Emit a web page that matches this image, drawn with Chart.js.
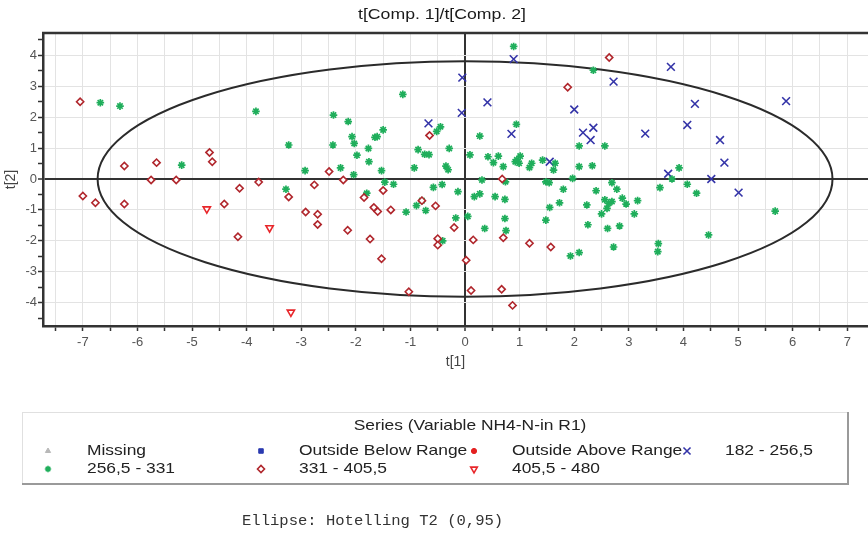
<!DOCTYPE html>
<html><head><meta charset="utf-8">
<script src="https://cdn.jsdelivr.net/npm/chart.js@4.4.1/dist/chart.umd.min.js"></script>
<style>html,body{margin:0;padding:0;background:#fff;}canvas{display:block;}</style>
</head><body>
<canvas id="c" width="868" height="535"></canvas>
<script>
const chartTitle = 't[Comp. 1]/t[Comp. 2]';
const xAxisTitle = 't[1]';
const yAxisTitle = 't[2]';
const legendTitle = 'Series (Variable NH4-N-in R1)';
const footerText = 'Ellipse: Hotelling T2 (0,95)';
const legendLabels = ['Missing', 'Outside Below Range', 'Outside Above Range', '182 - 256,5', '256,5 - 331', '331 - 405,5', '405,5 - 480'];
const ellipseCenter = [0, 0];
const ellipseRadii = [6.73, 3.81];
const xRange = [-7.73, 7.38];
const yRange = [-4.757, 4.725];

// 182 - 256,5 (blue X)
const range182 = [
  [-0.67,1.80],[-0.05,3.28],[-0.06,2.14],[0.89,3.88],[0.41,2.48],[0.85,1.46],[1.55,0.56],
  [2.00,2.25],[2.16,1.50],[2.35,1.66],[2.30,1.26],[2.72,3.15],[3.30,1.47],[3.77,3.63],
  [4.21,2.43],[4.07,1.75],[4.67,1.26],[4.75,0.53],[5.88,2.52],[3.72,0.17],[4.51,0.00],[5.01,-0.44]
];
// 256,5 - 331 (green)
const range256 = [
  [-6.68,2.47],[-6.32,2.36],[-5.19,0.45],[-3.83,2.19],[-3.23,1.10],[-3.28,-0.33],[-2.93,0.27],
  [-2.41,2.07],[-2.14,1.86],[-2.42,1.10],[-2.28,0.36],[-2.07,1.37],[-2.03,1.15],[-1.98,0.77],
  [-2.04,0.14],[-1.77,0.99],[-1.76,0.56],[-1.65,1.35],[-1.61,1.37],[-1.50,1.59],[-1.53,0.27],
  [-1.14,2.74],[-1.47,-0.10],[-1.31,-0.17],[-1.80,-0.46],[-0.93,0.36],[-0.86,0.95],[-0.74,0.80],
  [-0.66,0.79],[-0.52,1.54],[-0.45,1.69],[-0.29,0.99],[-0.35,0.42],[-0.31,0.30],[-0.42,-0.18],
  [-0.58,-0.27],[-0.13,-0.41],[-0.89,-0.86],[-0.72,-1.02],[-1.08,-1.07],[-0.17,-1.26],[-0.41,-2.00],
  [-0.79,-0.70],
  [0.89,4.29],[2.35,3.52],[0.94,1.77],[0.27,1.39],[0.09,0.78],[0.42,0.72],[0.52,0.53],[0.61,0.74],
  [0.70,0.40],[0.92,0.56],[0.95,0.62],[1.01,0.74],[0.99,0.51],[1.22,0.51],[1.18,0.37],[1.42,0.61],
  [1.65,0.51],[1.62,0.29],[2.09,1.07],[2.56,1.07],[2.09,0.40],[2.33,0.43],[0.31,-0.03],[0.74,-0.09],
  [1.48,-0.09],[1.54,-0.12],[1.97,0.02],[1.80,-0.33],[2.69,-0.12],[2.78,-0.33],[2.40,-0.38],
  [0.17,-0.57],[0.27,-0.48],[0.55,-0.57],[0.73,-0.66],[1.73,-0.77],[1.55,-0.92],[2.23,-0.84],
  [2.56,-0.67],[2.63,-0.79],[2.69,-0.73],[2.60,-0.95],[2.50,-1.13],[2.88,-0.62],[2.95,-0.81],
  [3.16,-0.70],[3.10,-1.13],[0.05,-1.21],[0.73,-1.28],[1.48,-1.33],[2.25,-1.48],[2.83,-1.52],
  [2.61,-1.60],[0.36,-1.60],[0.75,-1.67],[2.72,-2.20],[1.93,-2.49],[2.09,-2.38],[3.57,-0.28],
  [3.54,-2.09],[3.53,-2.35],[3.92,0.36],[3.79,0.00],[4.07,-0.17],[4.24,-0.46],[5.68,-1.04],[4.46,-1.81]
];
// 331 - 405,5 (dark red diamond)
const range331 = [
  [-7.05,2.50],[-6.24,0.42],[-5.65,0.53],[-4.68,0.86],[-4.63,0.56],[-5.75,-0.03],[-5.29,-0.03],
  [-7.00,-0.55],[-6.77,-0.77],[-6.24,-0.81],[-4.41,-0.81],[-4.13,-0.30],[-4.16,-1.87],[-3.78,-0.10],
  [-3.23,-0.58],[-2.76,-0.19],[-2.49,0.24],[-2.23,-0.03],[-2.92,-1.07],[-2.70,-1.14],[-2.70,-1.47],
  [-2.15,-1.66],[-1.85,-0.60],[-1.67,-0.92],[-1.60,-1.05],[-1.50,-0.37],[-1.36,-1.00],[-1.74,-1.94],
  [-1.53,-2.58],[-1.03,-3.65],[-0.65,1.41],[-0.79,-0.70],[-0.54,-0.87],[-0.50,-1.93],[-0.50,-2.14],
  [-0.20,-1.57],[0.02,-2.63],[2.64,3.93],[1.88,2.97],[0.68,0.00],[0.15,-1.97],[0.70,-1.90],
  [1.18,-2.08],[1.57,-2.20],[0.11,-3.61],[0.67,-3.57],[0.87,-4.09]
];
// 405,5 - 480 (red triangle down)
const range405 = [[-4.73,-0.97],[-3.58,-1.58],[-3.19,-4.31]];

const toPts = a => a.map(p => ({x: p[0], y: p[1]}));
const isInt = v => Math.abs(v - Math.round(v)) < 1e-6;

const colors = {green:'#1fae5b', darkRed:'#b0262c', red:'#e8262a', blue:'#3434a8', blueSq:'#2a3ab0', redDot:'#e42020'};

const FONT = '"Liberation Sans", Arial, sans-serif';

function stretchedText(ctx, text, x, y, align, sx) {
  ctx.save();
  ctx.translate(x, y);
  ctx.scale(sx, 1);
  ctx.textAlign = align;
  ctx.fillText(text, 0, 0);
  ctx.restore();
}

const overlay = {
  id: 'overlay',
  beforeDatasetsDraw(chart) {
    const {ctx, chartArea: a, scales: {x, y}} = chart;
    ctx.save();
    ctx.beginPath(); ctx.rect(a.left, a.top, a.right - a.left, a.bottom - a.top); ctx.clip();
    const cx = x.getPixelForValue(ellipseCenter[0]);
    const cy = y.getPixelForValue(ellipseCenter[1]);
    const rx = Math.abs(x.getPixelForValue(ellipseCenter[0] + ellipseRadii[0]) - cx);
    const ry = Math.abs(y.getPixelForValue(ellipseCenter[1] + ellipseRadii[1]) - cy);
    ctx.beginPath(); ctx.ellipse(cx, cy, rx, ry, 0, 0, Math.PI * 2);
    ctx.lineWidth = 2; ctx.strokeStyle = '#2b2b2b'; ctx.stroke();
    ctx.restore();
  },
  afterDraw(chart) {
    const {ctx, chartArea: a} = chart;
    ctx.save();
    // top border
    ctx.strokeStyle = '#333'; ctx.lineWidth = 2.5;
    ctx.beginPath(); ctx.moveTo(a.left - 1, a.top); ctx.lineTo(a.right, a.top); ctx.stroke();
    // chart title
    ctx.fillStyle = '#1a1a1a'; ctx.font = '15.5px ' + FONT; ctx.textBaseline = 'middle';
    stretchedText(ctx, chartTitle, 442, 15, 'center', 1.14);
    // legend box
    const L = 22, T = 412, R = 847, B = 483;
    ctx.fillStyle = '#fff'; ctx.fillRect(L, T, R - L, B - T);
    ctx.strokeStyle = '#e0e0e0'; ctx.lineWidth = 1;
    ctx.strokeRect(L + 0.5, T + 0.5, R - L, B - T);
    ctx.strokeStyle = '#9a9a9a'; ctx.lineWidth = 2;
    ctx.beginPath(); ctx.moveTo(L, B + 1); ctx.lineTo(R + 1, B + 1); ctx.lineTo(R + 1, T); ctx.stroke();
    ctx.fillStyle = '#222'; ctx.font = '15px ' + FONT;
    stretchedText(ctx, legendTitle, 470, 426, 'center', 1.16);
    const colMarker = [48, 261, 474, 687], colText = [87, 299, 512, 725], rowY = [451, 469];
    const markers = [
      {pointStyle:'triangle', radius:3, rotation:0, borderWidth:1, fill:'#b8b8b8', stroke:'#b8b8b8'},
      {pointStyle:'rect', radius:3.2, rotation:0, borderWidth:1, fill:colors.blueSq, stroke:colors.blueSq},
      {pointStyle:'circle', radius:2.6, rotation:0, borderWidth:1, fill:colors.redDot, stroke:colors.redDot},
      {pointStyle:'crossRot', radius:5, rotation:0, borderWidth:1.6, fill:colors.blue, stroke:colors.blue},
      {pointStyle:'star', radius:3.2, rotation:0, borderWidth:1.6, fill:colors.green, stroke:colors.green},
      {pointStyle:'rectRot', radius:3.5, rotation:0, borderWidth:1.6, fill:'#fff', stroke:colors.darkRed},
      {pointStyle:'triangle', radius:3.8, rotation:180, borderWidth:1.6, fill:'#fff', stroke:colors.red}
    ];
    ctx.font = '15px ' + FONT;
    legendLabels.forEach((lab, i) => {
      const col = i % 4, row = Math.floor(i / 4);
      const m = markers[i];
      ctx.fillStyle = '#222';
      stretchedText(ctx, lab, colText[col], rowY[row], 'left', 1.16);
      ctx.save();
      ctx.fillStyle = m.fill; ctx.strokeStyle = m.stroke; ctx.lineWidth = m.borderWidth;
      Chart.helpers.drawPoint(ctx, {pointStyle: m.pointStyle, radius: m.radius, rotation: m.rotation, borderWidth: m.borderWidth}, colMarker[col], rowY[row]);
      ctx.restore();
    });
    // footer
    ctx.fillStyle = '#333'; ctx.font = '14px "Liberation Mono", "Courier New", monospace';
    stretchedText(ctx, footerText, 242, 521, 'left', 1.11);
    ctx.restore();
  }
};

const gridColor = c => Math.abs(c.tick.value) < 1e-6 ? '#333' : '#e3e3e3';
const gridWidth = c => Math.abs(c.tick.value) < 1e-6 ? 2 : 1;

new Chart(document.getElementById('c'), {
  type: 'scatter',
  data: {
    datasets: [
      {label: '331 - 405,5', data: toPts(range331), pointStyle: 'rectRot', pointRadius: 3.6, borderWidth: 1.6, borderColor: colors.darkRed, backgroundColor: '#fff'},
      {label: '256,5 - 331', data: toPts(range256), pointStyle: 'star', pointRadius: 3.8, borderWidth: 1.7, borderColor: colors.green, backgroundColor: colors.green},
      {label: '405,5 - 480', data: toPts(range405), pointStyle: 'triangle', rotation: 180, pointRadius: 4.2, borderWidth: 1.6, borderColor: colors.red, backgroundColor: '#fff'},
      {label: '182 - 256,5', data: toPts(range182), pointStyle: 'crossRot', pointRadius: 5.5, borderWidth: 1.6, borderColor: colors.blue, backgroundColor: colors.blue}
    ]
  },
  options: {
    responsive: false,
    animation: false,
    devicePixelRatio: 1,
    layout: {autoPadding: false, padding: {top: 33, left: 0, right: 0, bottom: 161}},
    plugins: {legend: {display: false}, title: {display: false}, tooltip: {enabled: false}},
    scales: {
      x: {
        type: 'linear', min: xRange[0], max: xRange[1],
        afterFit: s => { s.height = 48; s.paddingLeft = 0; s.paddingRight = 0; },
        ticks: {stepSize: 0.5, includeBounds: false, autoSkip: false, maxRotation: 0, padding: 4,
          color: '#555', font: {family: FONT, size: 13},
          callback: v => isInt(v) ? String(Math.round(v)) : ''},
        grid: {color: gridColor, lineWidth: gridWidth, tickColor: '#333', tickLength: 5, tickWidth: 1.5},
        border: {display: true, color: '#333', width: 2.5},
        title: {display: true, text: xAxisTitle, color: '#444', font: {family: FONT, size: 14}, padding: {top: 0, bottom: 3}}
      },
      y: {
        type: 'linear', min: yRange[0], max: yRange[1],
        afterFit: s => { s.width = 43; s.paddingTop = 0; s.paddingBottom = 0; },
        ticks: {stepSize: 0.5, includeBounds: false, autoSkip: false, padding: 1,
          color: '#555', font: {family: FONT, size: 13},
          callback: v => isInt(v) ? String(Math.round(v)) : ''},
        grid: {color: c => isInt(c.tick.value) ? gridColor(c) : 'rgba(0,0,0,0)', lineWidth: gridWidth, tickColor: '#333', tickLength: 5, tickWidth: 1.5},
        border: {display: true, color: '#333', width: 2.5},
        title: {display: true, text: yAxisTitle, color: '#444', font: {family: FONT, size: 14}, padding: {top: 3, bottom: 0}}
      }
    }
  },
  plugins: [overlay]
});
</script>
</body></html>
